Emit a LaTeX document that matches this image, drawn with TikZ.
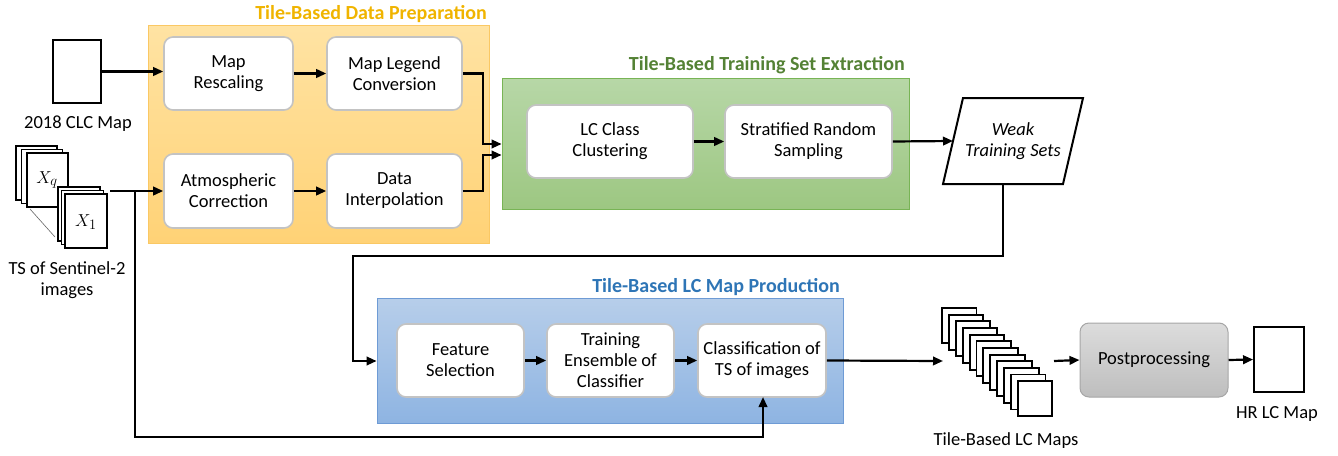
\documentclass[tikz,border=0pt]{standalone}
\usepackage{fontspec}
\setmainfont{Carlito}
\usetikzlibrary{arrows.meta,calc}
\definecolor{ytitle}{RGB}{240,180,0}
\definecolor{ytop}{RGB}{255,227,163}
\definecolor{ybot}{RGB}{255,210,118}
\definecolor{yedge}{RGB}{250,200,100}
\definecolor{gtitle}{RGB}{84,130,53}
\definecolor{gtop}{RGB}{183,215,167}
\definecolor{gbot}{RGB}{157,199,130}
\definecolor{gedge}{RGB}{120,180,85}
\definecolor{btitle}{RGB}{46,117,182}
\definecolor{btop}{RGB}{183,206,234}
\definecolor{bbot}{RGB}{142,180,226}
\definecolor{bedge}{RGB}{110,155,213}
\definecolor{ptop}{RGB}{220,220,220}
\definecolor{pbot}{RGB}{190,190,190}
\definecolor{pedge}{RGB}{166,166,166}
\definecolor{boxedge}{RGB}{195,195,195}
\tikzset{
  txt/.style={font=\fontsize{18.5}{21}\selectfont, align=center},
  stepbox/.style={txt, draw=boxedge, line width=1.6pt, fill=white, rounded corners=9pt, inner sep=0pt},
  group/.style={draw=#1edge, line width=0.8pt, top color=#1top, bottom color=#1bot, inner sep=0pt},
  gtitlestyle/.style={font=\fontsize{20}{22}\selectfont\bfseries, anchor=base east, inner sep=0pt},
  arr/.style={line width=2.2pt, -{Triangle[length=10pt,width=8.5pt]}},
  sheet/.style={draw=black, line width=1.9pt, fill=white},
}
\begin{document}
\begin{tikzpicture}[x=1pt,y=-1pt]
\useasboundingbox (0,0) rectangle (1338,455);
% groups
\node[group=y, minimum width=341pt, minimum height=218pt] (ygrp) at (318.5,134) {};
\node[gtitlestyle, text=ytitle] (ytit) at (487,19) {Tile-Based Data Preparation};
\node[group=g, minimum width=407pt, minimum height=131pt] (ggrp) at (705.5,143.5) {};
\node[gtitlestyle, text=gtitle] (gtit) at (905,70) {Tile-Based Training Set Extraction};
\node[group=b, minimum width=466pt, minimum height=125pt] (bgrp) at (610,360.5) {};
\node[gtitlestyle, text=btitle] (btit) at (840,292) {Tile-Based LC Map Production};
% steps
\node[stepbox, minimum width=129pt, minimum height=73pt] (resc) at (228.5,73.5) {Map\\Rescaling};
\node[stepbox, minimum width=135pt, minimum height=73pt] (legend) at (394.5,73.5) {Map Legend\\Conversion};
\node[stepbox, minimum width=129pt, minimum height=74pt] (atmo) at (228.5,191) {Atmospheric\\Correction};
\node[stepbox, minimum width=135pt, minimum height=74pt] (interp) at (394.5,191) {Data\\Interpolation};
\node[stepbox, minimum width=166pt, minimum height=73pt] (clust) at (610,141.5) {LC Class\\Clustering};
\node[stepbox, minimum width=167pt, minimum height=73pt] (strat) at (808.5,141.5) {Stratified Random\\Sampling};
\node[stepbox, minimum width=127pt, minimum height=73pt] (feat) at (460.5,360.5) {Feature\\Selection};
\node[stepbox, minimum width=127pt, minimum height=73pt] (train) at (610.5,360.5) {Training\\Ensemble of\\Classifier};
\node[stepbox, minimum width=128pt, minimum height=73pt] (classif) at (762,360.5) {Classification of\\TS of images};
\node[txt, draw=pedge, line width=1pt, top color=ptop, bottom color=pbot, rounded corners=9pt, minimum width=148pt, minimum height=74pt, inner sep=0pt] (post) at (1154,360) {Postprocessing};
% weak training sets parallelogram
\draw[line width=2pt, fill=white] (943,184) -- (963,98) -- (1083,98) -- (1063,184) -- cycle;
\node[txt, font=\fontsize{18.5}{21}\selectfont\itshape] (weak) at (1013,141) {Weak\\Training Sets};
\coordinate (weakL) at (953,141);
\coordinate (weakB) at (1003,184);
% CLC map
\node[sheet, minimum width=48pt, minimum height=63pt, inner sep=0pt] (clc) at (77,71.5) {};
\node[txt] (clclab) at (78,124) {2018 CLC Map};
% HR map
\node[sheet, minimum width=50pt, minimum height=65pt, inner sep=0pt] (hr) at (1279,359.5) {};
\node[txt] (hrlab) at (1277,414) {HR LC Map};
% TS stacks
\foreach \i in {0,1,2} {
  \draw[sheet] ({16+5.5*\i},{146+3.5*\i}) rectangle ++(41,54);
}
\node[inner sep=0pt, font=\fontsize{19}{20}\selectfont] (xq) at (47,180) {$X_q$};
\draw[line width=0.6pt, draw=black!60] (30,209) -- (55,237);
\foreach \i in {0,1,2} {
  \draw[sheet] ({58+3.5*\i},{187+3.5*\i}) rectangle ++(42,54);
}
\node[inner sep=0pt, font=\fontsize{19}{20}\selectfont] (x1) at (86,222) {$X_1$};
\node[txt] (tslab) at (67,280) {TS of Sentinel-2\\images};
\coordinate (tsout) at (110,191);
\coordinate (tsjoin) at (135,191);
% tile maps stack
\foreach \i in {0,...,11} {
  \draw[sheet] ({942+6.9*\i},{308+6.65*\i}) rectangle ++(34.5,35);
}
\coordinate (tilesin) at (943,361);
\coordinate (tilesout) at (1054,361);
\node[txt] (tilelab) at (1006,441) {Tile-Based LC Maps};
% connectors
\draw[arr] (clc.east) -- (clc.east -| resc.west);
\draw[arr] (resc) -- (legend);
\draw[arr] (atmo) -- (interp);
\draw[arr] (tsout) -- (tsout -| atmo.west);
\draw[arr] (legend.east) -- (483,73.5) -- (483,144) -- (ggrp.west |- 0,144);
\draw[arr] (interp.east) -- (483,191) -- (483,155) -- (ggrp.west |- 0,155);
\draw[arr] (clust) -- (strat);
\draw[arr] (strat.east) -- (weakL);
\draw[arr] (weakB) -- (1003,256) -- (353,256) -- (353,361) -- (bgrp.west |- 0,361);
\draw[arr] (feat) -- (train);
\draw[arr] (train) -- (classif);
\draw[arr] (tsjoin) -- (135,437) -- (763,437) -- (763,397);
\draw[arr] (classif.east) -- (tilesin);
\draw[arr] (tilesout) -- (post.west);
\draw[arr] (post.east) -- (hr.west);
\end{tikzpicture}
\end{document}
